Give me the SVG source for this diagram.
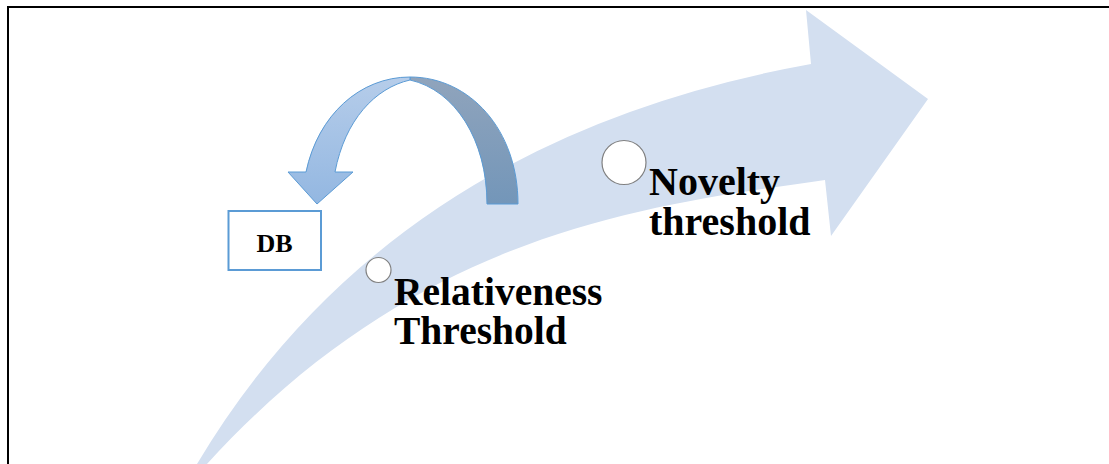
<svg xmlns="http://www.w3.org/2000/svg" width="1109" height="464" viewBox="0 0 1109 464">
  <defs>
    <linearGradient id="gradFront" x1="0" y1="0" x2="0" y2="1">
      <stop offset="0" stop-color="#b6cdea"/>
      <stop offset="1" stop-color="#93b7e1"/>
    </linearGradient>
    <linearGradient id="gradBack" x1="0" y1="0" x2="0" y2="1">
      <stop offset="0" stop-color="#90a4bc"/>
      <stop offset="1" stop-color="#7396b9"/>
    </linearGradient>
    <style>
      .label { font-family: "Liberation Serif", "Times New Roman", serif; font-weight: bold; fill: #000; }
      .marker { fill: #ffffff; stroke: #808080; stroke-width: 1.2; }
    </style>
  </defs>

  <rect width="1109" height="464" fill="#ffffff"/>
  <!-- outer frame -->
  <rect x="8" y="7" width="1120" height="480" fill="none" stroke="#000" stroke-width="2"/>

  <!-- large sweeping arrow -->
  <g id="progress-arrow">
    <path d="M 197,464 Q 390,140 811,64 L 806,10 L 928,99 L 831,236 L 825,180 C 650,205 420,230 207,464 Z" fill="#d3dff0"/>
  </g>

  <!-- curved return arrow -->
  <g id="return-arrow" stroke="#5b9bd5" stroke-width="1" stroke-linejoin="round">
    <path d="M 410,77 C 470,77 518,130 518,204 L 487,204 C 487,140 455,90 410,80 Z" fill="url(#gradBack)"/>
    <path d="M 410,77 C 360,77 318,115 306,172 L 288,172 L 317,204 L 353,172 L 335,172 C 345,120 375,88 410,80 Z" fill="url(#gradFront)"/>
  </g>

  <g id="db">
    <rect x="228.5" y="211" width="92.5" height="59" fill="#ffffff" stroke="#5b9bd5" stroke-width="2"/>
    <text class="label" x="274.5" y="252" font-size="26" text-anchor="middle">DB</text>
  </g>

  <g id="relativeness">
    <circle class="marker" cx="378.5" cy="270" r="12.5"/>
    <text class="label" font-size="39.5" x="394" y="305">Relativeness</text>
    <text class="label" font-size="39.5" x="394" y="344">Threshold</text>
  </g>

  <g id="novelty">
    <circle class="marker" cx="624" cy="162.5" r="22"/>
    <text class="label" font-size="40" x="649" y="195">Novelty</text>
    <text class="label" font-size="40" x="649" y="235">threshold</text>
  </g>
</svg>
